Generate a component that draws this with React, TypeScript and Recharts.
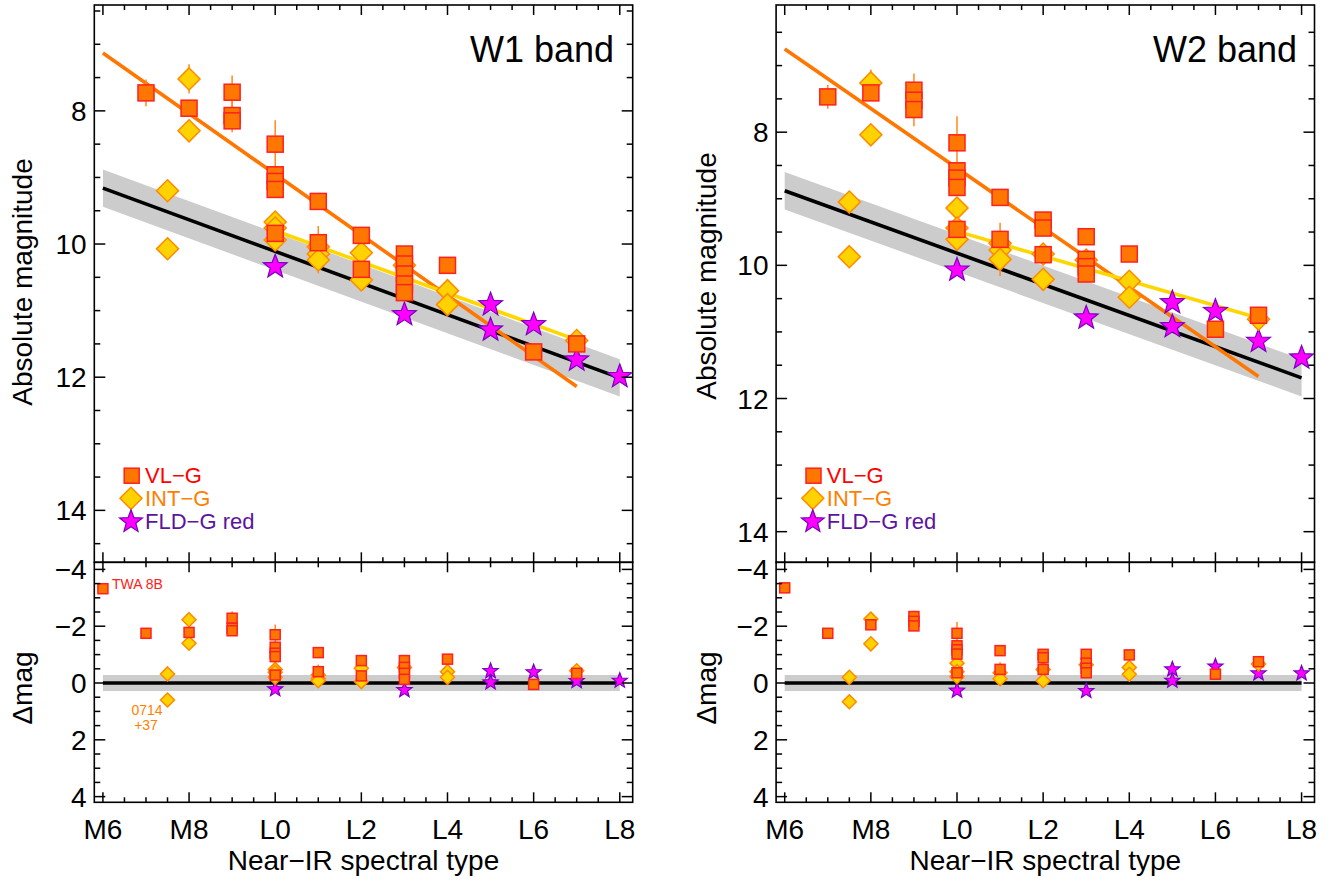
import React from 'react';
import { ComposedChart, XAxis, YAxis, Scatter, Line, Area, ErrorBar } from 'recharts';

const FONT = '"Liberation Sans", Arial, Helvetica, sans-serif';

// Spectral type codes: M6=6 ... M9=9, L0=10 ... L8=18
const xDomain: [number, number] = [5.8, 18.3];
const xMajorTicks = [6, 8, 10, 12, 14, 16, 18];
const xTickLabels = ['M6', 'M8', 'L0', 'L2', 'L4', 'L6', 'L8'];
const xMinorStep = 0.5;
const magMajorTicks = [8, 10, 12, 14];
const dMajorTicks = [-4, -2, 0, 2, 4];
const w1MagDomain: [number, number] = [6.41, 14.78];
const w2MagDomain: [number, number] = [6.09, 14.46];
const dDomain: [number, number] = [-4.25, 4.2];
const BAND = 0.28;

type Row = [number, number, number?];

// ---------- W1 absolute magnitudes [spt, mag, err] ----------
const w1Vlg: Row[] = [
  [7, 7.73, 0.2], [8, 7.96], [9, 7.72, 0.25], [9, 8.07, 0.25], [9, 8.15],
  [10, 8.5, 0.36], [10, 8.96], [10, 9.06], [10, 9.18], [10, 9.84, 0.1],
  [11, 9.36, 0.1], [11, 9.98, 0.25], [12, 9.87, 0.08], [12, 10.38],
  [13, 10.15, 0.06], [13, 10.3], [13, 10.45], [13, 10.6], [13, 10.73],
  [14, 10.32, 0.12], [16, 11.62], [17, 11.5, 0.05],
];
const w1Int: Row[] = [
  [7.5, 9.2], [7.5, 10.07], [8, 7.52, 0.22], [8, 8.3],
  [10, 9.67], [10, 9.76], [10, 9.94], [11, 10.04], [11, 10.15], [11, 10.24, 0.2],
  [12, 10.13], [12, 10.54], [13, 10.32], [14, 10.7], [14, 10.91], [17, 11.45],
];
const w1Fld: Row[] = [
  [10, 10.34], [13, 11.06], [15, 10.91], [15, 11.29], [16, 11.21], [17, 11.74], [18, 11.99],
];
const w1FieldFit: Row[] = [[6, 9.16], [18, 12.01]];
const w1VlgFit: Row[] = [[6, 7.13], [17, 12.14]];
const w1IntFit: Row[] = [[10, 9.8], [17, 11.44]];

// ---------- W1 residuals ----------
const w1dVlg: Row[] = [
  [6, -3.32], [7, -1.75, 0.1], [8, -1.78], [9, -2.28, 0.25], [9, -1.93], [9, -1.84],
  [10, -1.7, 0.36], [10, -1.26], [10, -1.05], [10, -0.93], [10, -0.28],
  [11, -1.07], [11, -0.4, 0.25], [12, -0.79], [12, -0.25],
  [13, -0.79], [13, -0.55], [13, -0.34], [13, -0.13], [14, -0.84], [16, 0.05], [17, -0.34],
];
const w1dInt: Row[] = [
  [7.5, -0.32], [7.5, 0.6], [8, -2.23], [8, -1.4], [10, -0.48], [10, -0.38], [10, -0.2],
  [11, -0.28], [11, -0.16], [11, -0.08, 0.2], [12, -0.52], [12, -0.05], [13, -0.55],
  [14, -0.4], [14, -0.2], [17, -0.43],
];
const w1dFld: Row[] = [
  [10, 0.22], [13, 0.25], [15, -0.42], [15, -0.02], [16, -0.38], [17, -0.07], [18, -0.08],
];

// ---------- W2 absolute magnitudes ----------
const w2Vlg: Row[] = [
  [7, 7.47, 0.18], [8, 7.41], [9, 7.37, 0.25], [9, 7.52], [9, 7.66, 0.25],
  [10, 8.16, 0.4], [10, 8.58], [10, 8.69], [10, 8.83], [10, 9.46],
  [11, 8.98, 0.05], [11, 9.61, 0.25], [12, 9.32, 0.08], [12, 9.44], [12, 9.84, 0.05],
  [13, 9.57], [13, 9.91], [13, 10.02], [13, 10.13], [14, 9.83, 0.05], [16, 10.96], [17, 10.75],
];
const w2Int: Row[] = [
  [7.5, 9.05], [7.5, 9.87], [8, 7.26, 0.2], [8, 8.04], [10, 9.14], [10, 9.44], [10, 9.61],
  [11, 9.67], [11, 9.77], [11, 9.91, 0.25], [12, 9.83], [12, 10.21], [13, 9.92],
  [14, 10.24], [14, 10.48], [17, 10.81],
];
const w2Fld: Row[] = [
  [10, 10.07], [13, 10.79], [15, 10.56], [15, 10.92], [16, 10.69], [17, 11.14], [18, 11.39],
];
const w2FieldFit: Row[] = [[6, 8.88], [18, 11.69]];
const w2VlgFit: Row[] = [[6, 6.75], [17, 11.67]];
const w2IntFit: Row[] = [[10, 9.49], [17, 10.79]];

// ---------- W2 residuals ----------
const w2dVlg: Row[] = [
  [6, -3.35], [7, -1.75], [8, -2.05], [9, -2.34, 0.2], [9, -2.17], [9, -2.01],
  [10, -1.75, 0.4], [10, -1.31], [10, -1.17], [10, -1.02], [10, -0.36],
  [11, -1.14], [11, -0.48, 0.25], [12, -1.01], [12, -0.89], [12, -0.48],
  [13, -1.01], [13, -0.7], [13, -0.52], [13, -0.36], [14, -0.99], [16, -0.31], [17, -0.75],
];
const w2dInt: Row[] = [
  [7.5, -0.2], [7.5, 0.66], [8, -2.25], [8, -1.38], [10, -0.7], [10, -0.4], [10, -0.22],
  [11, -0.36], [11, -0.15, 0.2], [12, -0.48], [12, -0.08], [13, -0.64],
  [14, -0.55], [14, -0.31], [17, -0.67],
];
const w2dFld: Row[] = [
  [10, 0.27], [13, 0.28], [15, -0.48], [15, -0.08], [16, -0.58], [17, -0.34], [18, -0.34],
];
const zeroFit: Row[] = [[6, 0], [18, 0]];

// ---------- styles ----------
const SQ_FILL = '#FF7700';
const SQ_STROKE = '#FF2020';
const DI_FILL = '#FFD200';
const DI_STROKE = '#FF8A00';
const ST_FILL = '#FF00FF';
const ST_STROKE = '#7A00C0';
const ORANGE_LINE = '#FF7700';
const YELLOW_LINE = '#FFD700';
const ERR_COLOR = '#FF8A1A';
const FIT_W = 3.6;

const toPts = (rows: Row[]) => rows.map(([x, y, e]) => ({ x, y, err: e ?? 0 }));

function starPath(cx: number, cy: number, R: number, r: number) {
  let d = '';
  for (let i = 0; i < 10; i++) {
    const a = -Math.PI / 2 + (i * Math.PI) / 5;
    const rad = i % 2 === 0 ? R : r;
    d += (i === 0 ? 'M' : 'L') + (cx + rad * Math.cos(a)).toFixed(2) + ',' + (cy + rad * Math.sin(a)).toFixed(2);
  }
  return d + 'Z';
}

function Square({ cx, cy, h }: { cx: number; cy: number; h: number }) {
  return <rect x={cx - h} y={cy - h} width={2 * h} height={2 * h} fill={SQ_FILL} stroke={SQ_STROKE} strokeWidth={1.5} />;
}
function Diamond({ cx, cy, h }: { cx: number; cy: number; h: number }) {
  return (
    <polygon
      points={`${cx},${cy - h} ${cx + h},${cy} ${cx},${cy + h} ${cx - h},${cy}`}
      fill={DI_FILL}
      stroke={DI_STROKE}
      strokeWidth={1.5}
    />
  );
}
function Star({ cx, cy, h }: { cx: number; cy: number; h: number }) {
  return <path d={starPath(cx, cy, h, h * 0.42)} fill={ST_FILL} stroke={ST_STROKE} strokeWidth={1.2} />;
}

const isMultiple = (v: number, step: number) => Math.abs(v / step - Math.round(v / step)) < 1e-6;

function stepTicks(lo: number, hi: number, step: number) {
  const out: number[] = [];
  const start = Math.ceil(lo / step - 1e-9) * step;
  for (let v = start; v <= hi + 1e-9; v += step) out.push(Math.round(v * 1000) / 1000);
  return out;
}

const fmtNum = (v: number) => (v < 0 ? '\u2212' + Math.abs(v) : String(v));

type Box = { left: number; top: number; width: number; height: number };
type Plot = { x0: number; x1: number; y0: number; y1: number };

type PanelProps = {
  box: Box;
  plot: Plot;
  yDomain: [number, number];
  yMajor: number[];
  field: Row[];
  fits: { rows: Row[]; color: string }[];
  vlg: Row[];
  intg: Row[];
  fld: Row[];
  small: boolean;
  xLabels: boolean;
  topEveryInteger: boolean;
};

const Y_AXIS_W = 40;
const X_AXIS_H = 30;

function Panel(p: PanelProps) {
  const lx0 = p.plot.x0 - p.box.left;
  const lx1 = p.plot.x1 - p.box.left;
  const ly0 = p.plot.y0 - p.box.top;
  const ly1 = p.plot.y1 - p.box.top;
  const margin = {
    top: ly0,
    left: lx0 - Y_AXIS_W,
    right: p.box.width - lx1,
    bottom: p.box.height - ly1 - X_AXIS_H,
  };
  const bandData = p.field.map(([x, y]) => ({ x, y, band: [y - BAND, y + BAND] }));
  const xTicks = stepTicks(xDomain[0], xDomain[1], xMinorStep);
  const yTicks = stepTicks(Math.min(...p.yDomain), Math.max(...p.yDomain), 0.5);
  const sq = p.small ? 5 : 8;
  const di = p.small ? 7 : 11;
  const st = p.small ? 8 : 12.5;

  const xTick = (props: any) => {
    const x = props.x;
    const v = props.payload.value as number;
    const major = xMajorTicks.includes(v);
    const len = major ? 10 : 5;
    const showTop = !p.topEveryInteger || isMultiple(v, 1);
    const idx = xMajorTicks.indexOf(v);
    return (
      <g>
        <line x1={x} x2={x} y1={ly1} y2={ly1 - len} stroke="#000" strokeWidth={1.5} />
        {showTop && <line x1={x} x2={x} y1={ly0} y2={ly0 + len} stroke="#000" strokeWidth={1.5} />}
        {p.xLabels && idx >= 0 && (
          <text x={x} y={ly1 + 36.7} textAnchor="middle" fontSize={28} fontFamily={FONT} fill="#000">
            {xTickLabels[idx]}
          </text>
        )}
      </g>
    );
  };

  const yTick = (props: any) => {
    const y = props.y;
    const v = props.payload.value as number;
    const major = p.yMajor.includes(v);
    const len = major ? 11 : 6;
    return (
      <g>
        <line x1={lx0} x2={lx0 + len} y1={y} y2={y} stroke="#000" strokeWidth={1.5} />
        <line x1={lx1} x2={lx1 - len} y1={y} y2={y} stroke="#000" strokeWidth={1.5} />
        {major && (
          <text x={lx0 - 7.6} y={y + 10} textAnchor="end" fontSize={28} fontFamily={FONT} fill="#000">
            {fmtNum(v)}
          </text>
        )}
      </g>
    );
  };

  return (
    <div style={{ position: 'absolute', left: p.box.left, top: p.box.top }}>
      <ComposedChart width={p.box.width} height={p.box.height} margin={margin} data={bandData}>
        <XAxis
          type="number"
          dataKey="x"
          domain={xDomain}
          allowDataOverflow
          ticks={xTicks}
          interval={0}
          tick={xTick}
          tickLine={false}
          axisLine={false}
          height={X_AXIS_H}
        />
        <YAxis
          type="number"
          dataKey="y"
          domain={p.yDomain}
          reversed
          allowDataOverflow
          ticks={yTicks}
          interval={0}
          tick={yTick}
          tickLine={false}
          axisLine={false}
          width={Y_AXIS_W}
        />
        <Area dataKey="band" type="linear" stroke="none" fill="#CCCCCC" fillOpacity={1} isAnimationActive={false} />
        <Line dataKey="y" type="linear" stroke="#000" strokeWidth={FIT_W} dot={false} isAnimationActive={false} />
        {p.fits.map((f, i) => (
          <Line
            key={i}
            data={toPts(f.rows)}
            dataKey="y"
            type="linear"
            stroke={f.color}
            strokeWidth={FIT_W}
            dot={false}
            isAnimationActive={false}
          />
        ))}
        <Scatter
          data={toPts(p.fld)}
          isAnimationActive={false}
          shape={(s: any) => <Star cx={s.cx} cy={s.cy} h={st} />}
        />
        <Scatter
          data={toPts(p.intg)}
          isAnimationActive={false}
          shape={(s: any) => <Diamond cx={s.cx} cy={s.cy} h={di} />}
        >
          <ErrorBar dataKey="err" direction="y" width={0} stroke={ERR_COLOR} strokeWidth={1.5} />
        </Scatter>
        <Scatter
          data={toPts(p.vlg)}
          isAnimationActive={false}
          shape={(s: any) => <Square cx={s.cx} cy={s.cy} h={sq} />}
        >
          <ErrorBar dataKey="err" direction="y" width={0} stroke={ERR_COLOR} strokeWidth={1.5} />
        </Scatter>
      </ComposedChart>
    </div>
  );
}

const LX0 = 94.3, LX1 = 632.7, RX0 = 776.1, RX1 = 1314.5;
const TY0 = 5, TY1 = 562.3, BY1 = 802.3;

function Legend({ dx }: { dx: number }) {
  return (
    <g>
      <Square cx={131.7 + dx} cy={475.7} h={7.5} />
      <text x={145 + dx} y={483} fontSize={22} fontFamily={FONT} fill="#FF0000">VL−G</text>
      <Diamond cx={131 + dx} cy={498.3} h={11} />
      <text x={145 + dx} y={505.5} fontSize={22} fontFamily={FONT} fill="#FF7F00">INT−G</text>
      <Star cx={131 + dx} cy={521.7} h={12} />
      <text x={145 + dx} y={529} fontSize={22} fontFamily={FONT} fill="#5A14A0">FLD−G red</text>
    </g>
  );
}

export default function App() {
  return (
    <div style={{ position: 'absolute', left: 0, top: 0, width: 1333, height: 884, background: '#fff', overflow: 'hidden' }}>
      <Panel
        box={{ left: 0, top: 0, width: 660, height: 600 }}
        plot={{ x0: LX0, x1: LX1, y0: TY0, y1: TY1 }}
        yDomain={w1MagDomain}
        yMajor={magMajorTicks}
        field={w1FieldFit}
        fits={[{ rows: w1VlgFit, color: ORANGE_LINE }, { rows: w1IntFit, color: YELLOW_LINE }]}
        vlg={w1Vlg}
        intg={w1Int}
        fld={w1Fld}
        small={false}
        xLabels={false}
        topEveryInteger={false}
      />
      <Panel
        box={{ left: 0, top: 545, width: 660, height: 339 }}
        plot={{ x0: LX0, x1: LX1, y0: TY1, y1: BY1 }}
        yDomain={dDomain}
        yMajor={dMajorTicks}
        field={zeroFit}
        fits={[]}
        vlg={w1dVlg}
        intg={w1dInt}
        fld={w1dFld}
        small={true}
        xLabels={true}
        topEveryInteger={true}
      />
      <Panel
        box={{ left: 670, top: 0, width: 663, height: 600 }}
        plot={{ x0: RX0, x1: RX1, y0: TY0, y1: TY1 }}
        yDomain={w2MagDomain}
        yMajor={magMajorTicks}
        field={w2FieldFit}
        fits={[{ rows: w2VlgFit, color: ORANGE_LINE }, { rows: w2IntFit, color: YELLOW_LINE }]}
        vlg={w2Vlg}
        intg={w2Int}
        fld={w2Fld}
        small={false}
        xLabels={false}
        topEveryInteger={false}
      />
      <Panel
        box={{ left: 670, top: 545, width: 663, height: 339 }}
        plot={{ x0: RX0, x1: RX1, y0: TY1, y1: BY1 }}
        yDomain={dDomain}
        yMajor={dMajorTicks}
        field={zeroFit}
        fits={[]}
        vlg={w2dVlg}
        intg={w2dInt}
        fld={w2dFld}
        small={true}
        xLabels={true}
        topEveryInteger={true}
      />
      <svg
        width={1333}
        height={884}
        style={{ position: 'absolute', left: 0, top: 0, pointerEvents: 'none' }}
        fontFamily={FONT}
      >
        {/* frames */}
        <rect x={LX0} y={TY0} width={LX1 - LX0} height={TY1 - TY0} fill="none" stroke="#000" strokeWidth={1.6} />
        <rect x={LX0} y={TY1} width={LX1 - LX0} height={BY1 - TY1} fill="none" stroke="#000" strokeWidth={1.6} />
        <rect x={RX0} y={TY0} width={RX1 - RX0} height={TY1 - TY0} fill="none" stroke="#000" strokeWidth={1.6} />
        <rect x={RX0} y={TY1} width={RX1 - RX0} height={BY1 - TY1} fill="none" stroke="#000" strokeWidth={1.6} />
        {/* titles */}
        <text x={614} y={62} textAnchor="end" fontSize={36} fill="#000">W1 band</text>
        <text x={1297} y={62} textAnchor="end" fontSize={36} fill="#000">W2 band</text>
        {/* axis titles */}
        <text transform="translate(32,282) rotate(-90)" textAnchor="middle" fontSize={28} fill="#000">Absolute magnitude</text>
        <text transform="translate(716,276) rotate(-90)" textAnchor="middle" fontSize={28} fill="#000">Absolute magnitude</text>
        <text transform="translate(32,688) rotate(-90)" textAnchor="middle" fontSize={28} fill="#000">Δmag</text>
        <text transform="translate(716,688) rotate(-90)" textAnchor="middle" fontSize={28} fill="#000">Δmag</text>
        <text x={(LX0 + LX1) / 2} y={870} textAnchor="middle" fontSize={28} fill="#000">Near−IR spectral type</text>
        <text x={(RX0 + RX1) / 2} y={870} textAnchor="middle" fontSize={28} fill="#000">Near−IR spectral type</text>
        {/* annotations */}
        <text x={112} y={589} fontSize={14} fill="#FF2020">TWA 8B</text>
        <text x={147} y={715} textAnchor="middle" fontSize={14} fill="#FF7F00">0714</text>
        <text x={146} y={730} textAnchor="middle" fontSize={14} fill="#FF7F00">+37</text>
        {/* legends */}
        <Legend dx={0} />
        <Legend dx={RX0 - LX0} />
      </svg>
    </div>
  );
}
